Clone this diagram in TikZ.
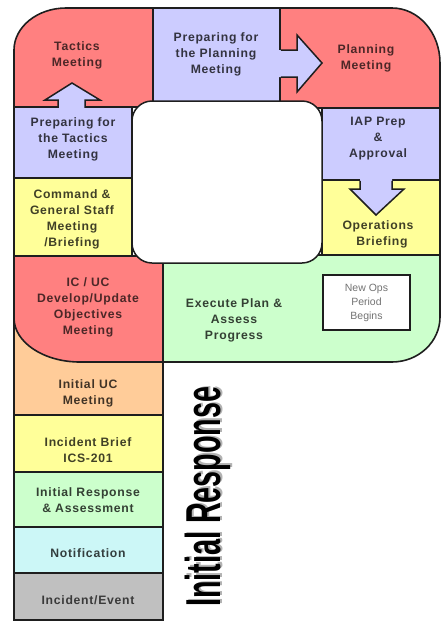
\documentclass[tikz,border=0pt]{standalone}
\usepackage{fontspec}
\setmainfont{Liberation Sans}
\newfontfamily\lblfont{Liberation Sans}[LetterSpace=6]
\definecolor{redc}{HTML}{FF8080}
\definecolor{lav}{HTML}{CCCCFF}
\definecolor{yel}{HTML}{FFFF99}
\definecolor{grn}{HTML}{CCFFCC}
\definecolor{org}{HTML}{FFCC99}
\definecolor{cyn}{HTML}{CCF7F7}
\definecolor{gry}{HTML}{C0C0C0}
\definecolor{edge}{HTML}{1E1E1E}
\begin{document}
\begin{tikzpicture}[x=1pt,y=-1pt,
  cell/.style={draw=edge,line width=1.5pt},
  arrowline/.style={draw=edge,line width=1.5pt,line join=miter},
  lbl/.style={font=\lblfont\bfseries\fontsize{12.2}{16}\selectfont, align=center, inner sep=0pt},
]
\useasboundingbox (0,0) rectangle (444,622);

% left column (initial response)
\path[cell,fill=org] (14,300) rectangle (163,415);
\path[cell,fill=yel] (14,415) rectangle (163,472);
\path[cell,fill=grn] (14,472) rectangle (163,527);
\path[cell,fill=cyn] (14,527) rectangle (163,573);
\path[cell,fill=gry] (14,573) rectangle (163,620);

% loop cells
\begin{scope}
\clip (66,8) -- (392,8) .. controls (418.5,8) and (440,32.6) .. (440,63) -- (440,317) .. controls (440,341.8) and (418.5,362) .. (392,362) -- (80,362) .. controls (43.6,362) and (14,342.3) .. (14,318) -- (14,50) .. controls (14,27) and (37.3,8) .. (66,8) -- cycle;
\path[cell,fill=redc] (0,0) rectangle (153,107);
\path[cell,fill=lav] (153,0) rectangle (280,108);
\path[cell,fill=redc] (280,0) rectangle (450,108);
\path[cell,fill=lav] (0,107) rectangle (132,178);
\path[cell,fill=yel] (0,178) rectangle (132,256);
\path[cell,fill=redc] (0,256) rectangle (163,370);
\path[cell,fill=lav] (322,108) rectangle (450,180);
\path[cell,fill=yel] (322,180) rectangle (450,255);
\path[cell,fill=grn] (163,255) rectangle (450,370);
\end{scope}

% inner white box
\draw[cell,fill=white,rounded corners=20pt] (132,101) rectangle (322,263);

% outer border
\draw[edge,line width=1.6pt] (66,8) -- (392,8) .. controls (418.5,8) and (440,32.6) .. (440,63) -- (440,317) .. controls (440,341.8) and (418.5,362) .. (392,362) -- (80,362) .. controls (43.6,362) and (14,342.3) .. (14,318) -- (14,50) .. controls (14,27) and (37.3,8) .. (66,8) -- cycle;

% block arrows
\fill[lav] (58,108.5) -- (58,100) -- (45,100) -- (72,83) -- (100,100) -- (85,100) -- (85,108.5) -- cycle;
\draw[arrowline] (58,107.8) -- (58,100) -- (45,100) -- (72,83) -- (100,100) -- (85,100) -- (85,107.8);
\fill[lav] (279,50) -- (297,50) -- (297,35) -- (322,63) -- (297,92) -- (297,77) -- (279,77) -- cycle;
\draw[arrowline] (280.8,50) -- (297,50) -- (297,35) -- (322,63) -- (297,92) -- (297,77) -- (280.8,77);
\fill[lav] (360,179) -- (360,189) -- (350,189) -- (376,215) -- (404,189) -- (392,189) -- (392,179) -- cycle;
\draw[arrowline] (360,180.8) -- (360,189) -- (350,189) -- (376,215) -- (404,189) -- (392,189) -- (392,180.8);

% labels
\node[lbl,text=redc!30!black] (tactics) at (77,55) {Tactics\\Meeting};
\node[lbl,text=lav!25!black] (prepp) at (216,54) {Preparing for\\the Planning\\Meeting};
\node[lbl,text=redc!30!black] (planning) at (366,58) {Planning\\Meeting};
\node[lbl,text=lav!25!black] (prept) at (73,139) {Preparing for\\the Tactics\\Meeting};
\node[lbl,text=lav!25!black] (iap) at (378,139) {IAP Prep\\\&\\Approval};
\node[lbl,text=yel!25!black] (cmd) at (72,219.5) {Command \&\\General Staff\\Meeting\\/Briefing};
\node[lbl,text=yel!25!black] (ops) at (378,234.5) {Operations\\\hspace*{8pt}Briefing};
\node[lbl,text=redc!30!black] (icuc) at (88,307) {IC / UC\\Develop/Update\\Objectives\\Meeting};
\node[lbl,text=grn!25!black] (exec) at (234,320) {Execute Plan \&\\Assess\\Progress};
\node[draw=edge,line width=1.3pt,fill=white,minimum width=87pt,minimum height=55pt,
      font=\fontsize{10.5}{14}\selectfont,text=black!55,align=center,inner sep=0pt] (newops) at (366.5,302.5) {New Ops\\Period\\Begins};

\node[lbl,text=org!25!black] (iuc) at (88,393) {Initial UC\\Meeting};
\node[lbl,text=yel!25!black] (brief) at (88,450) {Incident Brief\\ICS-201};
\node[lbl,text=grn!25!black] (iresp) at (88,500) {Initial Response\\\& Assessment};
\node[lbl,text=cyn!25!black] (notif) at (88,553) {Notification};
\node[lbl,text=gry!30!black] (event) at (88,600) {Incident/Event};

% big vertical title with shadow
\node[rotate=90,anchor=base west,inner sep=0pt,text=black!30,
      font=\bfseries\fontsize{49}{49}\selectfont] (irshadow) at (222.5,605.5) {\scalebox{0.585}[1]{Initial Response}};
\node[rotate=90,anchor=base west,inner sep=0pt,text=black,
      font=\bfseries\fontsize{49}{49}\selectfont] (ir) at (220,607) {\scalebox{0.585}[1]{Initial Response}};
\end{tikzpicture}
\end{document}
